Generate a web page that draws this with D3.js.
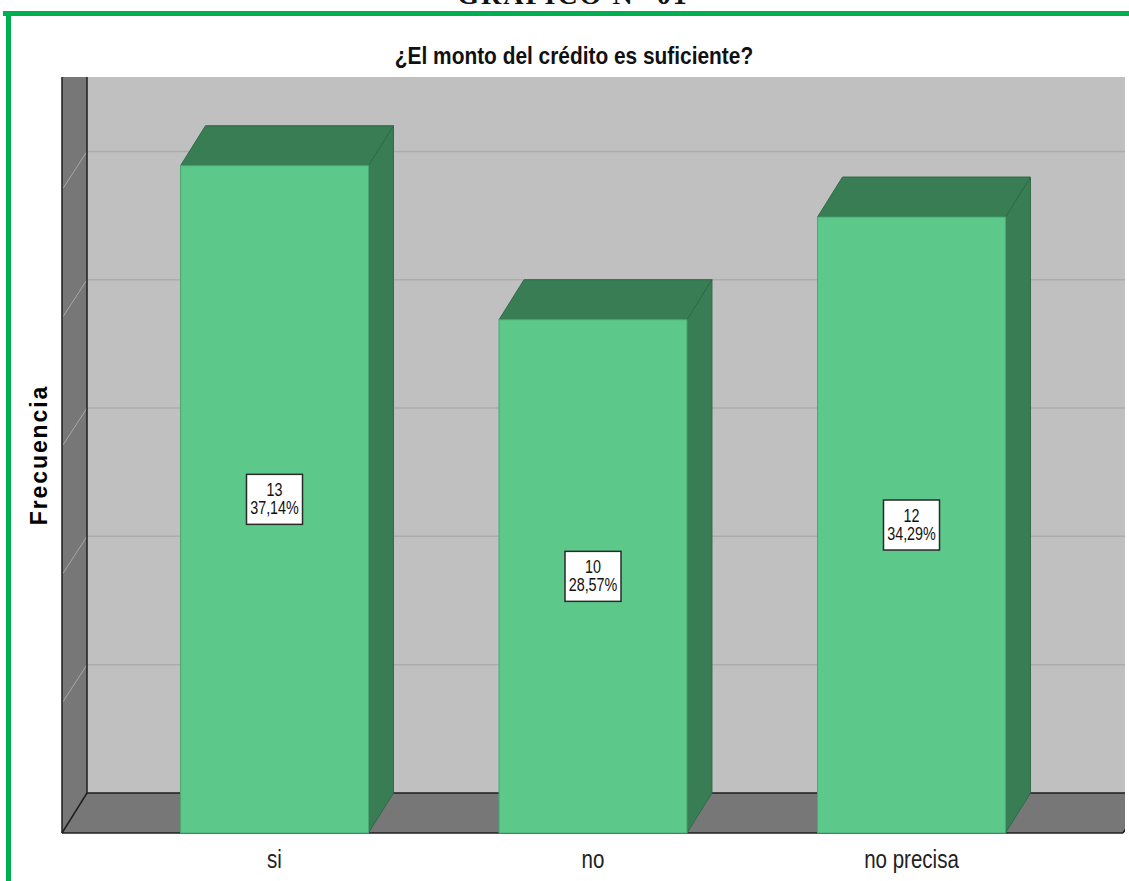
<!DOCTYPE html>
<html>
<head>
<meta charset="utf-8">
<script src="https://cdn.jsdelivr.net/npm/d3@7"></script>
<style>
  html, body { margin: 0; padding: 0; background: #ffffff; }
  svg { display: block; }
</style>
</head>
<body>
<svg id="chart" width="1129" height="881"></svg>
<script>
// ---- data ----
const categories = ["si", "no", "no precisa"];
const counts = [13, 10, 12];
const percents = ["37,14%", "28,57%", "34,29%"];
const gridTicks = [2.5, 5, 7.5, 10, 12.5];
const yMax = 14;
const chartTitle = "¿El monto del crédito es suficiente?";
const headerTitle = "GRÁFICO N° 01";
const yAxisTitle = "Frecuencia";

// ---- layout ----
const W = 1129, H = 881;
const depthX = 25, depthY = -40;      // 3D depth offset
const frontLeft = 62, frontRight = 1123;
const floorY = 833;
const wallTop = 77;
const backRight = 1125;
const sans = "'Liberation Sans', Arial, sans-serif";
const narrowScale = 0.82;

const svg = d3.select("#chart");

const x = d3.scaleBand()
  .domain(categories)
  .range([115.25, 1070.75])
  .paddingInner(0.41)
  .paddingOuter(0.205);

const y = d3.scaleLinear().domain([0, yMax]).range([floorY, floorY - 14 * 51.33]);

svg.append("clipPath").attr("id", "clip")
  .append("rect").attr("x", 0).attr("y", 0).attr("width", backRight).attr("height", H);

const g = svg.append("g").attr("clip-path", "url(#clip)");

// back wall
g.append("rect")
  .attr("x", frontLeft + depthX).attr("y", wallTop)
  .attr("width", backRight - (frontLeft + depthX))
  .attr("height", y(0) + depthY - wallTop)
  .attr("fill", "#c0c0c0");

// left wall
g.append("polygon")
  .attr("points", [
    [frontLeft, wallTop], [frontLeft + depthX, wallTop],
    [frontLeft + depthX, y(0) + depthY], [frontLeft, y(0)]
  ].map(p => p.join(",")).join(" "))
  .attr("fill", "#777777");

// floor
g.append("polygon")
  .attr("points", [
    [frontLeft, y(0)], [frontLeft + depthX, y(0) + depthY],
    [frontRight + depthX, y(0) + depthY], [frontRight, y(0)]
  ].map(p => p.join(",")).join(" "))
  .attr("fill", "#777777");

// gridlines on back wall and left wall
gridTicks.forEach(t => {
  g.append("line")
    .attr("x1", frontLeft + depthX).attr("x2", backRight)
    .attr("y1", y(t) + depthY).attr("y2", y(t) + depthY)
    .attr("stroke", "#acacac").attr("stroke-width", 1.5);
  g.append("line")
    .attr("x1", frontLeft + depthX).attr("y1", y(t) + depthY)
    .attr("x2", frontLeft + 1).attr("y2", y(t) - 3)
    .attr("stroke", "#a8a8a8").attr("stroke-width", 1);
});

// wall edge lines
const edge = "#1e1e1e";
function edgeLine(x1, y1, x2, y2) {
  g.append("line").attr("x1", x1).attr("y1", y1).attr("x2", x2).attr("y2", y2)
    .attr("stroke", edge).attr("stroke-width", 1.5);
}
edgeLine(frontLeft, wallTop, frontLeft, y(0));
edgeLine(frontLeft + depthX, wallTop, frontLeft + depthX, y(0) + depthY);
edgeLine(frontLeft + depthX, y(0) + depthY, backRight, y(0) + depthY);
edgeLine(frontLeft, y(0), frontRight, y(0));
edgeLine(frontLeft, y(0), frontLeft + depthX, y(0) + depthY);
edgeLine(frontRight, y(0), frontRight + depthX, y(0) + depthY);

// bars
const frontColor = "#5cc98a", darkColor = "#387d54", barEdge = "#2f6a47";
const bars = g.selectAll("g.bar")
  .data(categories.map((c, i) => ({ c, v: counts[i], p: percents[i] })))
  .join("g").attr("class", "bar");

bars.each(function (d) {
  const sel = d3.select(this);
  const x0 = x(d.c), x1 = x(d.c) + x.bandwidth();
  const yt = y(d.v), yb = y(0);
  sel.append("polygon")
    .attr("points", [[x1, yt], [x1 + depthX, yt + depthY], [x1 + depthX, yb + depthY], [x1, yb]]
      .map(p => p.join(",")).join(" "))
    .attr("fill", darkColor).attr("stroke", barEdge).attr("stroke-width", 1);
  sel.append("polygon")
    .attr("points", [[x0, yt], [x0 + depthX, yt + depthY], [x1 + depthX, yt + depthY], [x1, yt]]
      .map(p => p.join(",")).join(" "))
    .attr("fill", darkColor).attr("stroke", barEdge).attr("stroke-width", 1);
  sel.append("rect")
    .attr("x", x0).attr("y", yt).attr("width", x1 - x0).attr("height", yb - yt)
    .attr("fill", frontColor).attr("stroke", "#4aa873").attr("stroke-width", 1);

  const cx = x0 + x.bandwidth() / 2, cy = (yt + yb) / 2;
  sel.append("rect")
    .attr("x", cx - 28).attr("y", cy - 25).attr("width", 56).attr("height", 50)
    .attr("fill", "#ffffff").attr("stroke", "#2a2a2a").attr("stroke-width", 1.5);
  sel.append("text")
    .attr("transform", `translate(${cx},${cy - 3}) scale(${narrowScale},1)`)
    .attr("text-anchor", "middle")
    .attr("font-family", sans).attr("font-size", 17.5).attr("fill", "#111")
    .text(d.v);
  sel.append("text")
    .attr("transform", `translate(${cx},${cy + 15}) scale(${narrowScale},1)`)
    .attr("text-anchor", "middle")
    .attr("font-family", sans).attr("font-size", 17.5).attr("fill", "#111")
    .text(d.p);
});

// x axis category labels
svg.append("g").selectAll("text")
  .data(categories)
  .join("text")
  .attr("transform", d => `translate(${x(d) + x.bandwidth() / 2},868) scale(0.79,1)`)
  .attr("text-anchor", "middle")
  .attr("font-family", sans).attr("font-size", 26).attr("fill", "#222")
  .text(d => d);

// y axis title
svg.append("text")
  .attr("transform", "translate(47,455) rotate(-90)")
  .attr("text-anchor", "middle")
  .attr("font-family", sans).attr("font-weight", "bold").attr("font-size", 23)
  .attr("letter-spacing", 1.9)
  .attr("fill", "#000")
  .text(yAxisTitle);

// chart title
svg.append("text")
  .attr("transform", "translate(574,64) scale(0.87,1)")
  .attr("text-anchor", "middle")
  .attr("font-family", sans).attr("font-weight", "bold").attr("font-size", 24)
  .attr("fill", "#111")
  .text(chartTitle);

// header (cut off at top as in the original)
svg.append("text")
  .attr("x", 573).attr("y", 4)
  .attr("text-anchor", "middle")
  .attr("font-family", "'Liberation Serif', 'Times New Roman', serif")
  .attr("font-weight", "bold").attr("font-size", 28).attr("letter-spacing", 2)
  .attr("fill", "#111")
  .text(headerTitle);

// green frame
svg.append("rect").attr("x", 3).attr("y", 11).attr("width", W - 3).attr("height", 5).attr("fill", "#00b050");
svg.append("rect").attr("x", 6).attr("y", 11).attr("width", 5).attr("height", H - 11).attr("fill", "#00b050");
</script>
</body>
</html>
